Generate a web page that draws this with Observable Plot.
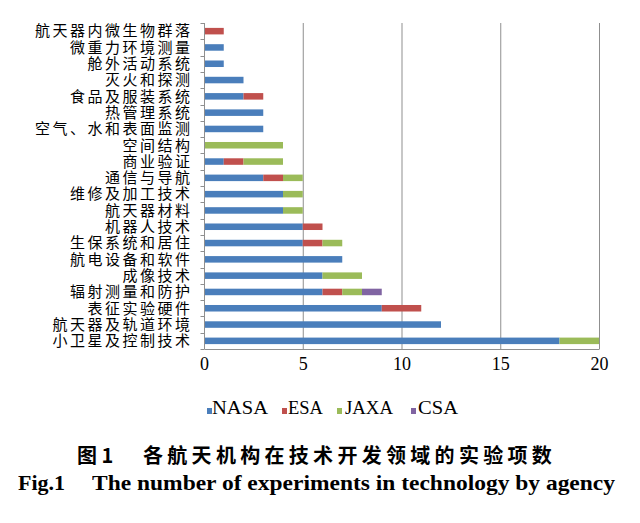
<!DOCTYPE html>
<html><head><meta charset="utf-8">
<script src="https://cdn.jsdelivr.net/npm/d3@7"></script>
<script src="https://cdn.jsdelivr.net/npm/@observablehq/plot@0.6"></script>
<style>
body{margin:0;background:#fff;width:640px;height:523px;position:relative;overflow:hidden;color:#000}
#chart{position:absolute;left:0;top:0}
#chart g[aria-label="x-axis tick label"] text{font-family:"Liberation Serif","Times New Roman",serif !important}
#chart g[aria-label="y-axis tick label"] text{letter-spacing:2.5px}
.lt{position:absolute;top:399px;font-family:"Liberation Serif","Times New Roman",serif;font-size:18px;line-height:18px;white-space:pre;transform-origin:0 0}
.sw{position:absolute;top:408px;width:5px;height:6px}
#cn span{position:absolute;top:445px;font-family:"Noto Sans CJK SC",sans-serif;font-weight:bold;font-size:20px;line-height:20px;white-space:pre}
#en span{position:absolute;top:473px;font-family:"Liberation Serif","Times New Roman",serif;font-weight:bold;font-size:21px;line-height:21px;white-space:pre;transform-origin:0 0}
</style></head><body>
<div id="chart"></div>
<div id="legend"></div>
<div id="cn"><span style="left:77px">图 1</span><span style="left:143px;letter-spacing:4.3px">各航天机构在技术开发领域的实验项数</span></div>
<div id="en"><span class="fit" data-w="47" style="left:18px">Fig.1</span><span class="fit" data-w="523" style="left:92px">The number of experiments in technology by agency</span></div>
<script>
const categories = ["航天器内微生物群落","微重力环境测量","舱外活动系统","灭火和探测","食品及服装系统","热管理系统","空气、水和表面监测","空间结构","商业验证","通信与导航","维修及加工技术","航天器材料","机器人技术","生保系统和居住","航电设备和软件","成像技术","辐射测量和防护","表征实验硬件","航天器及轨道环境","小卫星及控制技术"];
const agencies = ["NASA","ESA","JAXA","CSA"];
const colors = ["#4a7ebb","#c0504d","#9bbb59","#8064a2"];
const nasa = [0,1,1,2,2,3,3,0,1,3,4,4,5,5,7,6,6,9,12,18];
const esa  = [1,0,0,0,1,0,0,0,1,1,0,0,1,1,0,0,1,2,0,0];
const jaxa = [0,0,0,0,0,0,0,4,2,1,1,1,0,1,0,2,1,0,0,2];
const csa  = [0,0,0,0,0,0,0,0,0,0,0,0,0,0,0,0,1,0,0,0];
const xTicks = [0,5,10,15,20];

const series = [nasa, esa, jaxa, csa];
const rows = [];
categories.forEach((c, i) => {
  agencies.forEach((a, j) => {
    if (series[j][i] > 0) rows.push({cat: c, agency: a, value: series[j][i]});
  });
});

const axisColor = "#8f8f8f";
const chart = Plot.plot({
  width: 640, height: 380,
  marginTop: 23, marginBottom: 31, marginLeft: 204, marginRight: 41,
  style: {background: "#fff", color: "#000"},
  x: {domain: [0, 20], ticks: xTicks},
  y: {domain: categories, paddingInner: 0.6, paddingOuter: 0.3, round: false},
  color: {domain: agencies, range: colors},
  marks: [
    Plot.ruleX(xTicks.slice(1), {stroke: axisColor, strokeWidth: 1}),
    Plot.barX(rows, {y: "cat", x: "value", fill: "agency", order: agencies}),
    Plot.ruleX([0], {stroke: axisColor, strokeWidth: 1}),
    Plot.axisX({ticks: xTicks, tickSize: 0, tickPadding: 8, fontSize: 18, fontFamily: "Liberation Serif", label: null}),
    Plot.axisY({tickSize: 0, tickPadding: 12, fontSize: 15, fontFamily: "Noto Sans CJK SC", label: null})
  ]
});
document.getElementById("chart").appendChild(chart);

// Excel-style category tick marks between bands and bottom axis line
const ys = chart.scale("y"), xs = chart.scale("x");
const [r0, r1] = ys.range;
const step = (r1 - r0) / categories.length;
const g = d3.select(chart).append("g").attr("stroke", axisColor).attr("stroke-width", 1);
const x0 = xs.apply(0) + 0.5;
for (let i = 0; i <= categories.length; i++) {
  const yy = Math.round(r0 + i * step) + 0.5;
  g.append("line").attr("x1", x0 - 4).attr("x2", x0).attr("y1", yy).attr("y2", yy);
}
g.append("line").attr("x1", x0).attr("x2", xs.apply(20) + 0.5).attr("y1", r1 + 0.5).attr("y2", r1 + 0.5);

// legend (positions / widths)
const legSwX = [207, 282, 337, 411];
const legTxtX = [212, 288, 345, 418];
const legTxtW = [56, 35, 48, 40];
const leg = document.getElementById("legend");
agencies.forEach((a, j) => {
  const sw = document.createElement("div"); sw.className = "sw";
  sw.style.left = legSwX[j] + "px"; sw.style.background = colors[j];
  const t = document.createElement("span"); t.className = "lt fit";
  t.textContent = a; t.style.left = legTxtX[j] + "px"; t.dataset.w = legTxtW[j];
  leg.appendChild(sw); leg.appendChild(t);
});

function fit() {
  document.querySelectorAll(".fit").forEach(el => {
    el.style.transform = "none";
    const w = el.getBoundingClientRect().width;
    if (w > 0) el.style.transform = `scaleX(${(+el.dataset.w) / w})`;
  });
}
fit();
if (document.fonts && document.fonts.ready) document.fonts.ready.then(fit);
</script>
</body></html>
